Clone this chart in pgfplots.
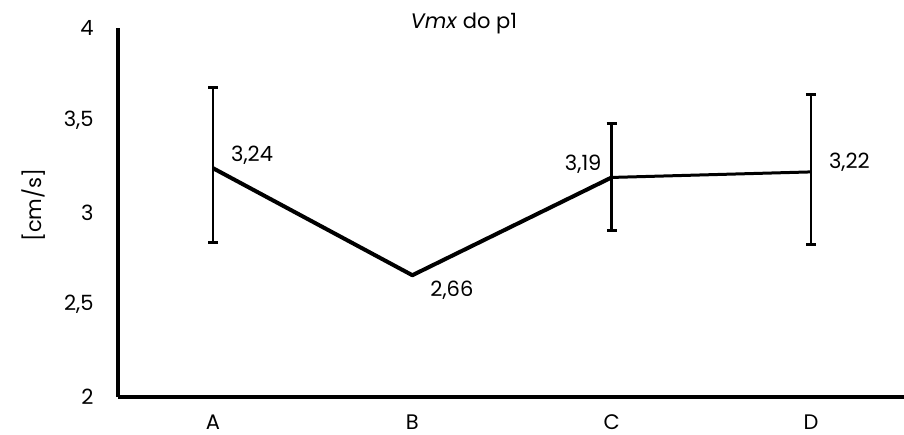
\documentclass[border=0pt]{standalone}
\usepackage{pgfplots}
\pgfplotsset{compat=1.18}
\usepackage{fontspec}
\setmainfont{Poppins}
\newcommand{\lbl}{\fontsize{21bp}{24bp}\selectfont}
\begin{document}
\begin{tikzpicture}
\begin{axis}[
  scale only axis,
  width=786bp, height=369bp,
  xmin=-0.477, xmax=3.467,
  ymin=2, ymax=4,
  axis lines=left,
  axis line style={line width=3.5bp, -},
  major tick length=0pt,
  xtick={0,1,2,3},
  xticklabels={A,B,C,D},
  ytick={2,2.5,3,3.5,4},
  /pgf/number format/.cd, use comma, assume math mode=true,
  /pgfplots/.cd,
  tick label style={font=\lbl},
  yticklabel style={xshift=-21bp},
  xticklabel style={yshift=-14bp},
  ylabel={[cm/s]},
  ylabel style={font=\lbl, at={(rel axis cs:-0.108,0.52)}, anchor=center, rotate=0},
  clip=false,
]
\addplot[black, line width=4bp, line join=round, mark=none] coordinates {(0,3.24) (1,2.66) (2,3.19)};
\addplot[black, line width=3bp, mark=none] coordinates {(2,3.19) (3,3.22)};
\addplot[draw=none, mark=none,
  error bars/.cd, y dir=both, y explicit,
  error bar style={black, line width=2.8bp},
  error mark options={black, rotate=90, mark size=5bp, line width=3bp}]
  coordinates {
   (0,3.24) += (0,0.435) -= (0,0.405)
   (2,3.19) += (0,0.29) -= (0,0.29)
   (3,3.22) += (0,0.422) -= (0,0.396)
  };
\node[font=\lbl, anchor=south west, inner sep=2bp] at (axis cs:0.08,3.25) {3,24};
\node[font=\lbl, anchor=north west, inner sep=2bp] at (axis cs:1.08,2.64) {2,66};
\node[font=\lbl, anchor=south east, inner sep=2bp] at (axis cs:1.96,3.2) {3,19};
\node[font=\lbl, anchor=west, inner sep=2bp] at (axis cs:3.08,3.27) {3,22};
\node[font=\lbl, anchor=center] at (rel axis cs:0.44,1.012) {\textit{Vmx} do p1};
\end{axis}
\pgfresetboundingbox
\path (-118bp,-38bp) rectangle (786bp,397bp);
\end{tikzpicture}
\end{document}
